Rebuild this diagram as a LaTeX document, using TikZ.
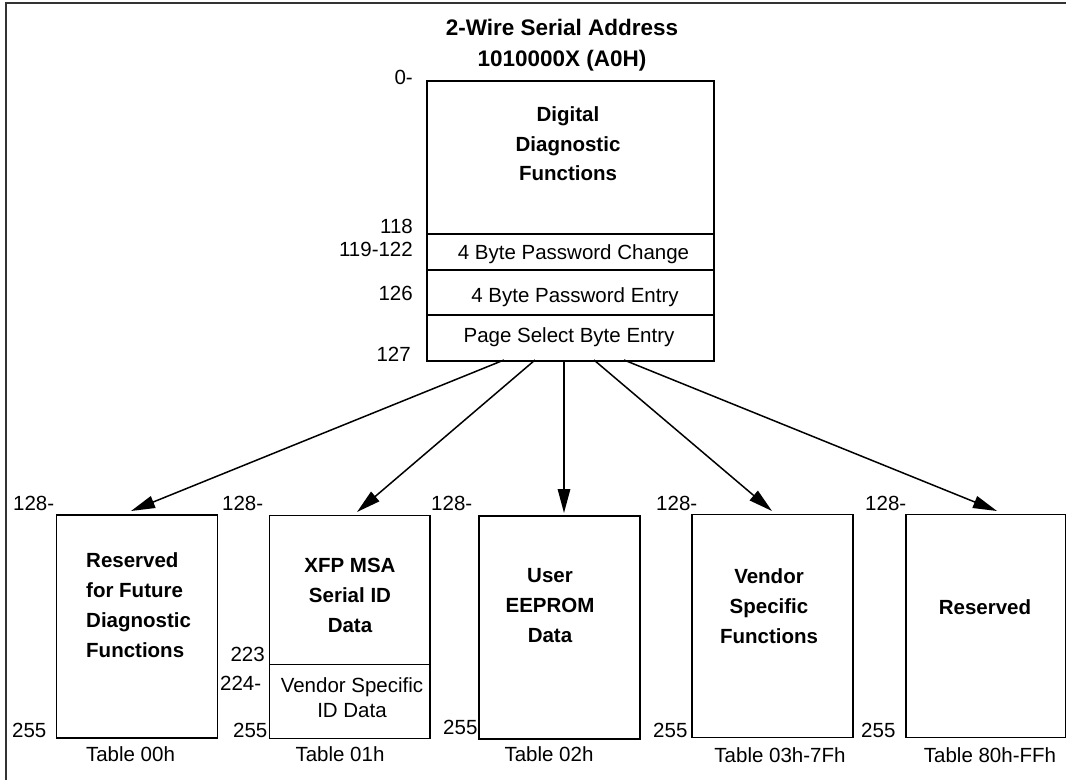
\documentclass[tikz,border=0pt]{standalone}
\usepackage{fontspec}
\setmainfont{Liberation Sans}
\usetikzlibrary{arrows.meta}
\begin{document}
\begin{tikzpicture}[x=1pt,y=-1pt,
  box/.style={draw, line width=1.5pt, inner sep=0pt, anchor=north west},
  txt/.style={font=\fontsize{20.5}{25}\selectfont, inner sep=0pt},
  btxt/.style={font=\bfseries\fontsize{20.5}{30}\selectfont, inner sep=0pt, align=center},
  num/.style={font=\fontsize{20.5}{24}\selectfont, inner sep=0pt},
  arr/.style={line width=1.5pt, -{Triangle[length=24pt,width=12.5pt]}},
]
\useasboundingbox (0,0) rectangle (1066,780);
% frame
\draw[line width=2pt, black!80] (6,780) -- (6,3) -- (1066,3);

% title
\node[font=\bfseries\fontsize{22.5}{31}\selectfont, inner sep=0pt, align=center] (title) at (562,45.5)
  {2-Wire Serial Address\\1010000X (A0H)};

% top box
\node[box, minimum width=287pt, minimum height=280pt] (top) at (426,80) {};
\node[box, minimum width=287pt, minimum height=36pt] (r1) at (426,233) {};
\node[box, minimum width=287pt, minimum height=45pt] (r2) at (426,269) {};
\node[box, minimum width=287pt, minimum height=46pt] (r3) at (426,314) {};
\node[btxt, font=\bfseries\fontsize{20.5}{29.5}\selectfont] (ddf) at (568,144) {Digital\\Diagnostic\\Functions};
\node[txt, anchor=base] (pc) at (573.5,259) {4 Byte Password Change};
\node[txt, anchor=base] (pe) at (575,302) {4 Byte Password Entry};
\node[txt, anchor=base] (ps) at (569,342) {Page Select Byte Entry};

\node[num, anchor=base east] (n0) at (413,84) {0-};
\node[num, anchor=base east] (n118) at (413,233) {118};
\node[num, anchor=base east] (n119) at (413,256) {119-122};
\node[num, anchor=base east] (n126) at (413,300) {126};
\node[num, anchor=base east] (n127) at (411,361) {127};

% bottom boxes
\node[box, minimum width=161pt, minimum height=223pt] (b1) at (55.5,514) {};
\node[box, minimum width=160.5pt, minimum height=223pt] (b2) at (268.5,514.5) {};
\node[box, minimum width=160.5pt, minimum height=74pt] (b2v) at (268.5,663.5) {};
\node[box, minimum width=161pt, minimum height=223pt] (b3) at (478,515) {};
\node[box, minimum width=161pt, minimum height=223pt] (b4) at (691,513.5) {};
\node[box, minimum width=159.5pt, minimum height=223pt] (b5) at (905,513.5) {};

\node[btxt, align=left, anchor=west] (t1) at (86,605.5) {Reserved\\for Future\\Diagnostic\\Functions};
\node[btxt] (t2) at (350,595.5) {XFP MSA\\Serial ID\\Data};
\node[txt, align=center] (t2v) at (352,698) {Vendor Specific\\ID Data};
\node[btxt] (t3) at (550,606) {User\\EEPROM\\Data};
\node[btxt] (t4) at (769,606) {Vendor\\Specific\\Functions};
\node[btxt, anchor=base] (t5) at (985,614) {Reserved};

% address labels
\node[num, anchor=base west] (a1) at (13,510) {128-};
\node[num, anchor=base west] (a2) at (222,510) {128-};
\node[num, anchor=base west] (a3) at (431,510) {128-};
\node[num, anchor=base west] (a4) at (656,510) {128-};
\node[num, anchor=base west] (a5) at (865,510) {128-};
\node[num, anchor=base west] (e1) at (12,737) {255};
\node[num, anchor=base west] (e2) at (233,737) {255};
\node[num, anchor=base west] (e3) at (443,734) {255};
\node[num, anchor=base west] (e4) at (653,737) {255};
\node[num, anchor=base west] (e5) at (861,737) {255};
\node[num, anchor=base east] (m223) at (265,661) {223};
\node[num, anchor=base west] (m224) at (220,690) {224-};

% table labels
\node[txt, anchor=base] (tb1) at (130.5,761) {Table 00h};
\node[txt, anchor=base] (tb2) at (340,761) {Table 01h};
\node[txt, anchor=base] (tb3) at (549,761) {Table 02h};
\node[txt, anchor=base] (tb4) at (780,762) {Table 03h-7Fh};
\node[txt, anchor=base] (tb5) at (990,762) {Table 80h-FFh};

% arrows
\coordinate (s1) at (504,360);
\coordinate (s2) at (535,360);
\coordinate (s3) at (564,360);
\coordinate (s4) at (594,360);
\coordinate (s5) at (624,360);
\coordinate (h1) at (131,511);
\coordinate (h2) at (357,512);
\coordinate (h3) at (564,513);
\coordinate (h4) at (772,511);
\coordinate (h5) at (997,511);
\draw[arr] (s1) -- (h1);
\draw[arr] (s2) -- (h2);
\draw[arr] (s3) -- (h3);
\draw[arr] (s4) -- (h4);
\draw[arr] (s5) -- (h5);
\end{tikzpicture}
\end{document}
